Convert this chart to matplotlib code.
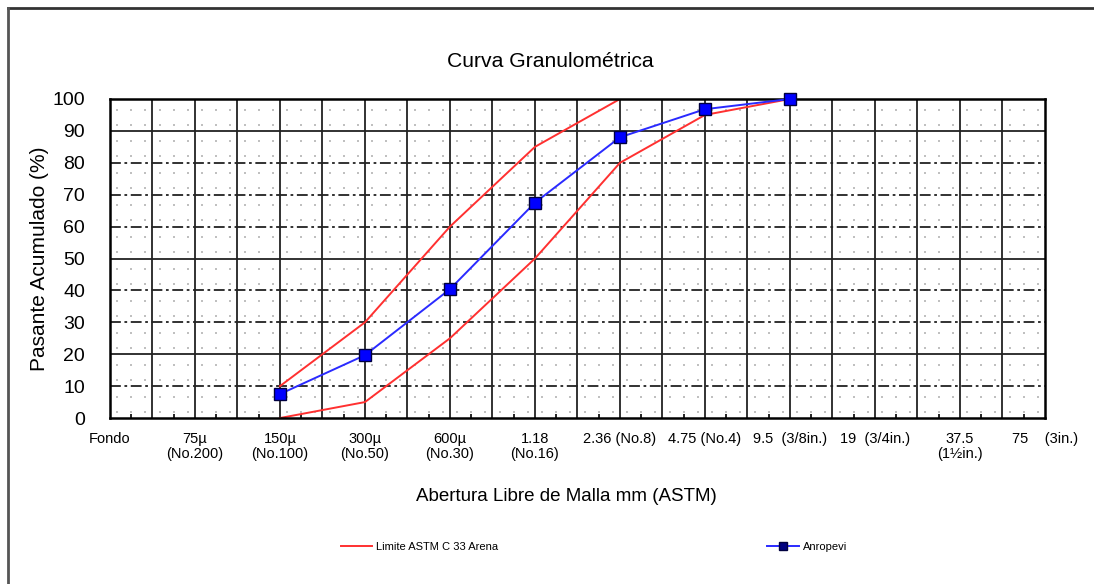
import matplotlib
matplotlib.use("Agg")
import matplotlib.pyplot as plt
from matplotlib.lines import Line2D
import numpy as np

plt.rcParams['font.family'] = ['Liberation Sans', 'DejaVu Sans']

# ---- data ----
tick_labels = ["Fondo", "75µ\n(No.200)", "150µ\n(No.100)", "300µ\n(No.50)", "600µ\n(No.30)",
               "1.18\n(No.16)", "2.36 (No.8)", "4.75 (No.4)", "9.5  (3/8in.)", "19  (3/4in.)",
               "37.5\n(1½in.)", "75    (3in.)"]
tick_pos = [0, 2, 4, 6, 8, 10, 12, 14, 16, 18, 20, 22]

sieve_pos = [4, 6, 8, 10, 12, 14, 16]
limite_sup = [10, 30, 60, 85, 100, 100, 100]
limite_inf = [0, 5, 25, 50, 80, 95, 100]
anropevi = [7.5, 19.7, 40.4, 67.5, 88.0, 96.8, 100]

fig = plt.figure(figsize=(10.94, 5.84), dpi=100)
ax = fig.add_axes([0.1005, 0.2842, 0.8547, 0.5463])
ax.set_xlim(0, 22)
ax.set_ylim(0, 100)

# dotted background pattern
gx = np.concatenate([np.arange(0, 22) + f for f in (1/6, 0.5, 5/6)])
gy = np.concatenate([np.arange(0, 100, 10) + f for f in (2.0, 6.7)])
GX, GY = np.meshgrid(gx, gy)
ax.scatter(GX.ravel(), GY.ravel(), s=3, color='#c0c0c0', marker='s', linewidths=0, zorder=0)

# vertical grid
for xv in range(1, 22):
    ax.axvline(xv, color='#222222', lw=1.3, zorder=1)
# horizontal grid
for yv in range(10, 100, 10):
    if yv in (90, 50, 20):
        ax.axhline(yv, color='#222222', lw=1.3, zorder=1)
    else:
        ax.axhline(yv, color='#222222', lw=1.3, ls=(0, (6, 2, 1.5, 2)), zorder=1)

red = '#ff3030'
blue = '#2a2aff'
ax.plot(sieve_pos, limite_sup, color=red, lw=1.4, zorder=2)
ax.plot(sieve_pos, limite_inf, color=red, lw=1.4, zorder=2)
ax.plot(sieve_pos, anropevi, color=blue, lw=1.4, marker='s', markersize=8,
        markerfacecolor='#0000ff', markeredgecolor='#000040', markeredgewidth=1.0,
        zorder=4, clip_on=False)

for s in ax.spines.values():
    s.set_linewidth(1.8)
    s.set_color('black')
    s.set_zorder(3)

ax.set_xticks(tick_pos)
ax.set_xticklabels(tick_labels, fontsize=10.5, va='top', linespacing=1.1)
ax.set_xticks(np.arange(0.5, 22, 1), minor=True)
ax.tick_params(axis='x', which='major', length=0, pad=10)
ax.tick_params(axis='x', which='minor', length=3, direction='in', width=1.2)
ax.set_yticks(range(0, 101, 10))
ax.tick_params(axis='y', which='major', length=0, pad=18, labelsize=14)

fig.text(0.0365, 0.557, "Pasante Acumulado (%)", rotation=90, fontsize=15,
         ha='center', va='center')
fig.text(0.503, 0.894, "Curva Granulométrica", fontsize=15.2, ha='center', va='center')
fig.text(0.518, 0.149, "Abertura Libre de Malla mm (ASTM)", fontsize=13.5,
         ha='center', va='center')

h1 = Line2D([], [], color=red, lw=1.4)
h2 = Line2D([], [], color=blue, lw=1.4, marker='s', markersize=6,
            markerfacecolor='#000080', markeredgecolor='#000040')
leg1 = fig.legend([h1], ["Limite ASTM C 33 Arena"], loc='center left',
                  bbox_to_anchor=(0.3115, 0.063), frameon=False, fontsize=8,
                  handlelength=2.8, handletextpad=0.4, borderpad=0, borderaxespad=0)
leg2 = fig.legend([h2], ["Anropevi"], loc='center left',
                  bbox_to_anchor=(0.7015, 0.063), frameon=False, fontsize=8,
                  handlelength=2.8, handletextpad=0.4, borderpad=0, borderaxespad=0)

# figure frame (top and left edges)
fig.add_artist(Line2D([8/1094, 1.0], [1 - 8/584, 1 - 8/584], transform=fig.transFigure,
                      color='#333333', lw=2.0))
fig.add_artist(Line2D([8/1094, 8/1094], [0, 1 - 8/584], transform=fig.transFigure,
                      color='#555555', lw=2.0))

fig.savefig("out.png", dpi=100)
